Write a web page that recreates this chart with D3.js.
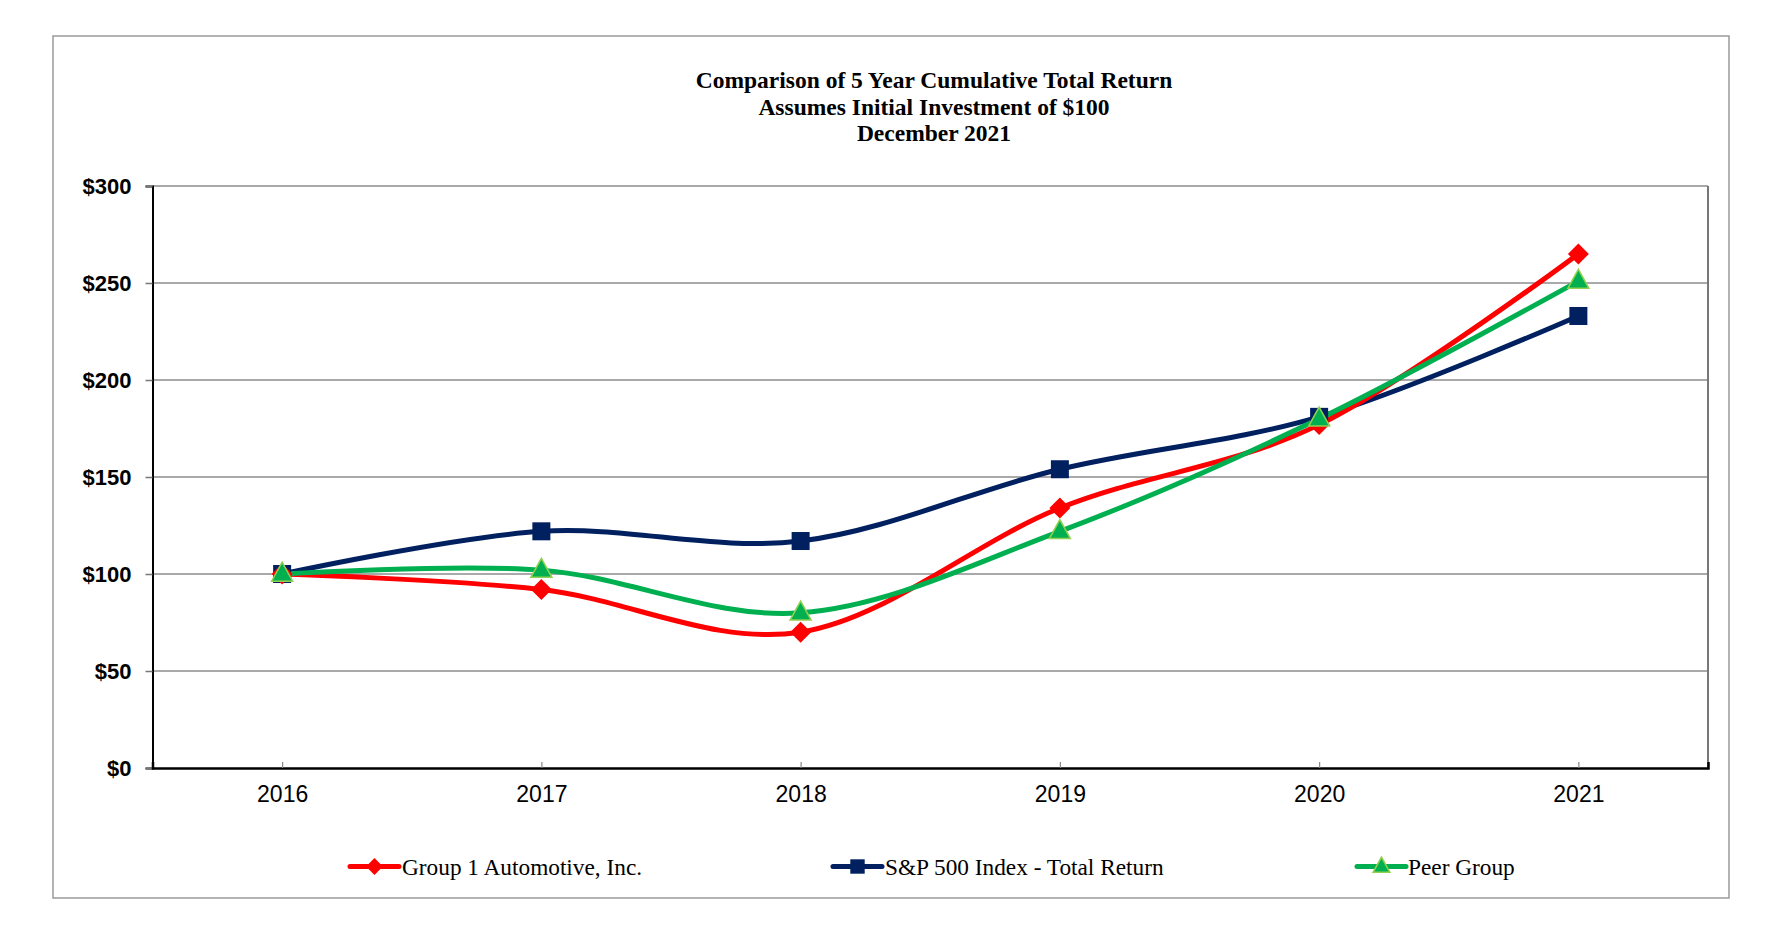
<!DOCTYPE html>
<html>
<head>
<meta charset="utf-8">
<script src="https://cdn.jsdelivr.net/npm/d3@7"></script>
<style>
  html, body { margin: 0; padding: 0; background: #ffffff; }
  svg { display: block; }
</style>
</head>
<body>
<svg id="chart" width="1772" height="943"></svg>
<script>
// ---- data ----
const years = ["2016", "2017", "2018", "2019", "2020", "2021"];
const group1 = [100, 92, 70, 134, 177, 265];
const sp500 = [100, 122, 117, 154, 181, 233];
const peer = [100, 102, 80, 122, 180, 251];
const yTicks = [0, 50, 100, 150, 200, 250, 300];
const titleLines = [
  "Comparison of 5 Year Cumulative Total Return",
  "Assumes Initial Investment of $100",
  "December 2021"
];
const seriesNames = ["Group 1 Automotive, Inc.", "S&P 500 Index - Total Return", "Peer Group"];

// ---- layout ----
const W = 1772, H = 943;
const plot = { left: 152.5, top: 186, right: 1708, bottom: 768 };
const svg = d3.select("#chart");

// outer frame
svg.append("rect")
  .attr("x", 53).attr("y", 36).attr("width", 1729 - 53).attr("height", 898 - 36)
  .attr("fill", "#fff").attr("stroke", "#9a9a9a").attr("stroke-width", 1.5);

// title
const title = svg.append("g")
  .attr("font-family", "'Liberation Serif', 'Times New Roman', serif")
  .attr("font-weight", "bold").attr("font-size", 23.5).attr("fill", "#000")
  .attr("text-anchor", "middle");
const titleY = [88, 115, 141];
titleLines.forEach((t, i) => {
  title.append("text").attr("x", 934).attr("y", titleY[i]).text(t);
});

// scales
const x = d3.scalePoint().domain(years).range([plot.left, plot.right]).padding(0.5);
const y = d3.scaleLinear().domain([0, 300]).range([plot.bottom, plot.top]);

// gridlines
svg.append("g")
  .selectAll("line").data(yTicks.filter(v => v > 0))
  .join("line")
  .attr("x1", plot.left).attr("x2", plot.right)
  .attr("y1", d => y(d)).attr("y2", d => y(d))
  .attr("stroke", "#8c8c8c").attr("stroke-width", 1.5);

// right border
svg.append("line")
  .attr("x1", plot.right).attr("x2", plot.right)
  .attr("y1", plot.top).attr("y2", plot.bottom)
  .attr("stroke", "#777").attr("stroke-width", 2);

// y axis
const yAxis = d3.axisLeft(y).tickValues(yTicks).tickFormat(d => "$" + d).tickSize(7).tickPadding(14);
const yg = svg.append("g").attr("transform", `translate(${plot.left},0)`).call(yAxis);
yg.select(".domain").attr("stroke", "#000").attr("stroke-width", 2);
yg.selectAll(".tick line").attr("stroke", "#777").attr("stroke-width", 1.5);
yg.selectAll(".tick text")
  .attr("font-family", "Arial, 'Liberation Sans', sans-serif")
  .attr("font-weight", "bold").attr("font-size", 22).attr("fill", "#000")
  .attr("dy", "0.36em");

// x axis
const xAxis = d3.axisBottom(x).tickSize(-6).tickPadding(18);
const xg = svg.append("g").attr("transform", `translate(0,${plot.bottom})`).call(xAxis);
xg.select(".domain").attr("stroke", "#000").attr("stroke-width", 2.5);
xg.selectAll(".tick line").attr("stroke", "#888").attr("stroke-width", 1.2);
xg.selectAll(".tick text")
  .attr("font-family", "Arial, 'Liberation Sans', sans-serif")
  .attr("font-size", 23).attr("fill", "#000")
  .attr("dy", "0.71em");

// series
const series = [
  { name: seriesNames[0], values: group1, color: "#ff0000", marker: "diamond" },
  { name: seriesNames[1], values: sp500, color: "#002060", marker: "square" },
  { name: seriesNames[2], values: peer, color: "#00b050", marker: "triangle" }
];

const line = d3.line()
  .x((d, i) => x(years[i]))
  .y(d => y(d))
  .curve(d3.curveCardinal.tension(0));

function drawMarker(g, type, cx, cy, color, scale) {
  const s = scale || 1;
  if (type === "diamond") {
    const r = 10.5 * s;
    g.append("path")
      .attr("d", `M${cx},${cy - r}L${cx + r},${cy}L${cx},${cy + r}L${cx - r},${cy}Z`)
      .attr("fill", color);
  } else if (type === "square") {
    const h = 9 * s;
    g.append("rect").attr("x", cx - h).attr("y", cy - h)
      .attr("width", 2 * h).attr("height", 2 * h).attr("fill", color);
  } else {
    const w = 10.5 * s, hh = 19 * s;
    g.append("path")
      .attr("d", `M${cx},${cy - hh * 0.62}L${cx + w},${cy + hh * 0.38}L${cx - w},${cy + hh * 0.38}Z`)
      .attr("fill", color).attr("stroke", "#92d050").attr("stroke-width", 1.5);
  }
}

// draw lines (order: S&P, red, green as reference layering)
const order = [1, 0, 2];
const linesG = svg.append("g");
order.forEach(k => {
  const s = series[k];
  linesG.append("path")
    .datum(s.values)
    .attr("d", line)
    .attr("fill", "none")
    .attr("stroke", s.color)
    .attr("stroke-width", 5)
    .attr("stroke-linejoin", "round")
    .attr("stroke-linecap", "round");
});
const markersG = svg.append("g");
order.forEach(k => {
  const s = series[k];
  s.values.forEach((v, i) => drawMarker(markersG, s.marker, x(years[i]), y(v), s.color, 1));
});

// legend
const legendY = 866.5;
const legendItems = [
  { s: series[0], x1: 350, x2: 399, tx: 402 },
  { s: series[1], x1: 833, x2: 882, tx: 885 },
  { s: series[2], x1: 1357, x2: 1406, tx: 1408 }
];
const lg = svg.append("g");
legendItems.forEach(it => {
  lg.append("line")
    .attr("x1", it.x1).attr("x2", it.x2).attr("y1", legendY).attr("y2", legendY)
    .attr("stroke", it.s.color).attr("stroke-width", 5).attr("stroke-linecap", "round");
  drawMarker(lg, it.s.marker, (it.x1 + it.x2) / 2, legendY, it.s.color, 0.8);
  lg.append("text")
    .attr("x", it.tx).attr("y", legendY + 8.5)
    .attr("font-family", "'Liberation Serif', 'Times New Roman', serif")
    .attr("font-size", 23.3).attr("fill", "#000")
    .text(it.s.name);
});
</script>
</body>
</html>
